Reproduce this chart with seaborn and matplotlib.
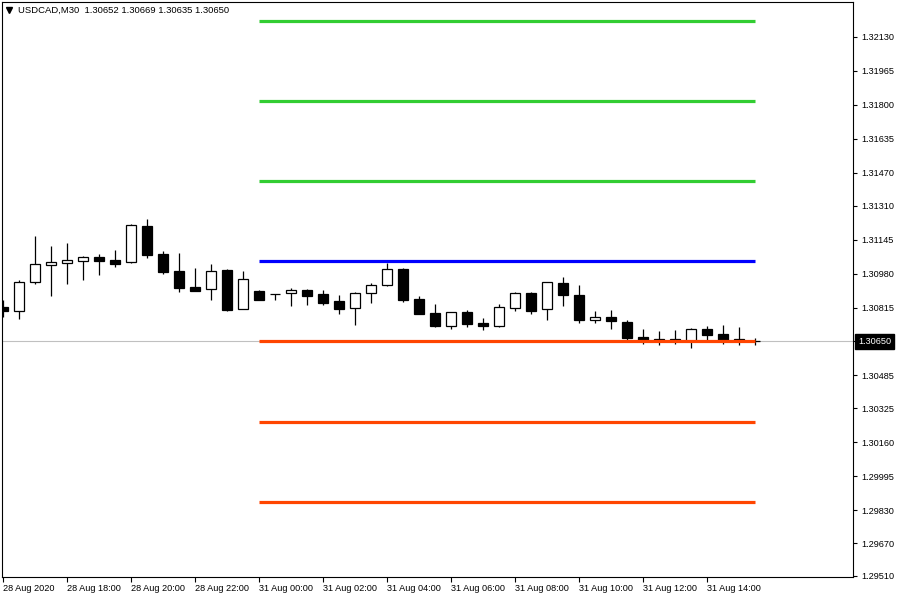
import numpy as np
import pandas as pd
import matplotlib
matplotlib.use("Agg")
import matplotlib.pyplot as plt
import matplotlib.transforms as mtransforms
import seaborn as sns

symbol = "USDCAD,M30"

# M30 bars, 28 Aug 16:00 -> 31 Aug 15:30
opens = [1.30818, 1.30798, 1.30939, 1.31022, 1.31032, 1.31041, 1.31061, 1.31046, 1.31036, 1.31211,
         1.31075, 1.30993, 1.30915, 1.30905, 1.30998, 1.30808, 1.30895, 1.30881, 1.30886, 1.30900,
         1.30881, 1.30847, 1.30813, 1.30886, 1.30925, 1.31002, 1.30857, 1.30789, 1.30725, 1.30793,
         1.30740, 1.30725, 1.30813, 1.30886, 1.30808, 1.30934, 1.30876, 1.30754, 1.30769, 1.30745,
         1.30672, 1.30660, 1.30660, 1.30652, 1.30711, 1.30686, 1.30660, 1.30652]
highs = [1.30852, 1.30949, 1.31163, 1.31114, 1.31129, 1.31066, 1.31075, 1.31095, 1.31221, 1.31245,
         1.31090, 1.31080, 1.31007, 1.31027, 1.31000, 1.30993, 1.30900, 1.30883, 1.30910, 1.30905,
         1.30900, 1.30876, 1.30888, 1.30934, 1.31032, 1.31007, 1.30871, 1.30832, 1.30795, 1.30803,
         1.30764, 1.30832, 1.30891, 1.30891, 1.30941, 1.30964, 1.30925, 1.30798, 1.30803, 1.30754,
         1.30711, 1.30701, 1.30706, 1.30713, 1.30725, 1.30730, 1.30720, 1.30669]
lows = [1.30769, 1.30759, 1.30929, 1.30871, 1.30929, 1.30949, 1.30973, 1.31012, 1.31032, 1.31056,
        1.30978, 1.30891, 1.30895, 1.30852, 1.30800, 1.30806, 1.30852, 1.30852, 1.30823, 1.30827,
        1.30827, 1.30784, 1.30730, 1.30837, 1.30920, 1.30842, 1.30782, 1.30720, 1.30711, 1.30720,
        1.30706, 1.30720, 1.30798, 1.30784, 1.30754, 1.30823, 1.30740, 1.30740, 1.30711, 1.30657,
        1.30638, 1.30633, 1.30638, 1.30618, 1.30657, 1.30638, 1.30633, 1.30635]
closes = [1.30798, 1.30939, 1.31027, 1.31036, 1.31046, 1.31061, 1.31041, 1.31027, 1.31216, 1.31070,
          1.30988, 1.30910, 1.30895, 1.30993, 1.30803, 1.30954, 1.30852, 1.30881, 1.30900, 1.30871,
          1.30837, 1.30808, 1.30886, 1.30925, 1.31002, 1.30852, 1.30784, 1.30725, 1.30793, 1.30735,
          1.30725, 1.30818, 1.30886, 1.30798, 1.30939, 1.30876, 1.30754, 1.30769, 1.30750, 1.30667,
          1.30652, 1.30652, 1.30652, 1.30711, 1.30682, 1.30652, 1.30652, 1.30650]

time_labels = ["28 Aug 2020", "28 Aug 18:00", "28 Aug 20:00", "28 Aug 22:00",
               "31 Aug 00:00", "31 Aug 02:00", "31 Aug 04:00", "31 Aug 06:00",
               "31 Aug 08:00", "31 Aug 10:00", "31 Aug 12:00", "31 Aug 14:00"]
price_ticks = [1.29510, 1.29670, 1.29830, 1.29995, 1.30160, 1.30325, 1.30485, 1.30650,
               1.30815, 1.30980, 1.31145, 1.31310, 1.31470, 1.31635, 1.31800, 1.31965, 1.32130]

# levels drawn from the first bar of 31 Aug
levels = [1.32210, 1.31820, 1.31430, 1.31040, 1.30650, 1.30260, 1.29870]
level_colors = ["#32cd32", "#32cd32", "#32cd32", "#0000ff", "#ff4500", "#ff4500", "#ff4500"]
level_start = 16

sns.set_theme(style="white")
plt.rcParams['font.family'] = ['Liberation Sans', 'DejaVu Sans']

df = pd.DataFrame(dict(open=opens, high=highs, low=lows, close=closes))
df['bar'] = np.arange(len(df))
df['up'] = df.close >= df.open
df['body_lo'] = df[['open', 'close']].min(axis=1)
df['body_h'] = (df.close - df.open).abs()

fig = plt.figure(figsize=(9, 6), dpi=100)
ax = fig.add_axes([2/900, 23/600, 851/900, 575/600])

# bid line
ax.axhline(closes[-1], color='#c0c0c0', lw=0.8, zorder=1)

# candles
ax.vlines(df.bar, df.low, df.high, color='black', lw=0.9, zorder=2)
ax.bar(df.bar, df.body_h, bottom=df.body_lo, width=0.66,
       color=np.where(df.up, 'white', 'black'), edgecolor='black', linewidth=0.9, zorder=3)

# levels
last_bar = len(df) - 1
rows = []
for k, lv in enumerate(levels):
    rows.append(dict(name=f"L{k}", bar=level_start, price=lv))
    rows.append(dict(name=f"L{k}", bar=last_bar, price=lv))
lv_df = pd.DataFrame(rows)
pal = {f"L{k}": c for k, c in enumerate(level_colors)}
sns.lineplot(lv_df, x='bar', y='price', hue='name', palette=pal, estimator=None,
             linewidth=2.3, legend=False, ax=ax, zorder=4)
for ln in ax.lines[1:]:
    ln.set_solid_capstyle('butt')

ax.set_xlim(-0.0625, 53.125)
ax.set_ylim(1.29505, 1.32300)
ax.set_xlabel('')
ax.set_ylabel('')

# the bid tag covers its own tick label
ylabels = [f"{v:.5f}" for v in price_ticks]
ylabels = ["" if abs(v - closes[-1]) < 1e-6 else s for v, s in zip(price_ticks, ylabels)]

ax.yaxis.tick_right()
ax.set_yticks(price_ticks)
ax.set_yticklabels(ylabels)
ax.set_xticks(range(0, 48, 4))
ax.set_xticklabels(time_labels, ha='left')
ax.tick_params(axis='y', which='both', right=True, left=False, direction='out', length=3,
               width=0.8, pad=3, labelsize=6.6, color='black', labelcolor='black')
ax.tick_params(axis='x', which='both', bottom=True, direction='out', length=3.5,
               width=0.8, pad=1.5, labelsize=6.6, color='black', labelcolor='black')
for s in ax.spines.values():
    s.set_color('black')
    s.set_linewidth(0.8)
ax.grid(False)

# current price tag
trans = mtransforms.blended_transform_factory(ax.transAxes, ax.transData)
ax.text(1.006, closes[-1], f"{closes[-1]:.5f}", transform=trans, color='white', fontsize=6.6,
        ha='left', va='center', clip_on=False, zorder=10,
        bbox=dict(boxstyle='square,pad=0.3', fc='black', ec='black'))

# header
ax.plot([0.008], [0.986], marker='v', ms=4, color='black', transform=ax.transAxes, clip_on=False)
ax.text(0.019, 0.986, f"{symbol}  {opens[-1]:.5f} {highs[-1]:.5f} {lows[-1]:.5f} {closes[-1]:.5f}",
        transform=ax.transAxes, ha='left', va='center', fontsize=6.8, color='black')

plt.savefig("out.png", dpi=100)
plt.close()
